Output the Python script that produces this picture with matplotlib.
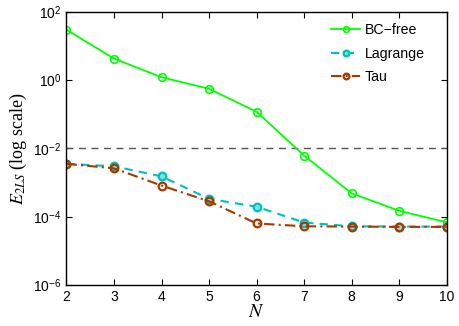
import math
import matplotlib
matplotlib.use("Agg")
import matplotlib.pyplot as plt
from matplotlib.ticker import FixedLocator, FuncFormatter, NullLocator

plt.rcParams['font.family'] = ['Liberation Sans', 'DejaVu Sans']
plt.rcParams['mathtext.fontset'] = 'stix'

N = [2, 3, 4, 5, 6, 7, 8, 9, 10]
bc_free = [29.5, 4.2, 1.2, 0.55, 0.117, 6.1e-3, 4.8e-4, 1.48e-4, 6.8e-5]
lagrange = [3.5e-3, 2.96e-3, 1.5e-3, 3.3e-4, 1.95e-4, 6.7e-5, 5.2e-5, 5.1e-5, 5.1e-5]
tau = [3.5e-3, 2.58e-3, 8.1e-4, 2.8e-4, 6.3e-5, 5.2e-5, 5.1e-5, 5.0e-5, 5.0e-5]
threshold = 1e-2
yticks = [1e-6, 1e-4, 1e-2, 1e0, 1e2]

fig = plt.figure(figsize=(4.6, 3.26), dpi=100)
ax = fig.add_axes([0.1445, 0.126, 0.8265, 0.8385])

ax.axhline(threshold, color='#555555', lw=1.0, ls=(0, (5, 4)))
ax.plot(N, bc_free, color='#00ff00', lw=1.3, ls='-', marker='o', ms=5.5,
        mfc='none', mec='#00ff00', mew=1.2, label='BC\u2212free')
ax.plot(N, lagrange, color='#00bfbf', lw=1.5, ls=(0, (4, 3)), marker='o', ms=5.5,
        mfc='#80dfdf', mec='#00bfbf', mew=1.6, label='Lagrange')
ax.plot(N, tau, color='#a33a00', lw=1.5, ls=(0, (5, 2, 1, 2)), marker='o', ms=5.5,
        mfc='none', mec='#a33a00', mew=1.6, label='Tau')

ax.set_yscale('log')
ax.set_xlim(2, 10)
ax.set_ylim(1e-6, 1e2)
ax.set_xticks(N)
ax.yaxis.set_major_locator(FixedLocator(yticks))
ax.yaxis.set_minor_locator(NullLocator())

def fmt(v, pos):
    e = int(round(math.log10(v)))
    s = str(e) if e >= 0 else '-' + str(-e)
    return r'10$^{\mathregular{%s}}$' % s

ax.yaxis.set_major_formatter(FuncFormatter(fmt))
ax.tick_params(which='both', direction='in', top=True, right=True, labelsize=10,
               length=4, width=0.8)
ax.tick_params(axis='x', pad=4)
for s in ax.spines.values():
    s.set_linewidth(1.0)

ax.set_xlabel('$N$', fontsize=14, labelpad=0)
ax.set_ylabel('$E_{2LS}$ (log scale)', fontsize=13, family='Liberation Serif', labelpad=3)

ax.legend(loc='upper right', bbox_to_anchor=(0.972, 1.0), frameon=False,
          fontsize=10.2, handlelength=2.1, markerscale=0.75,
          handletextpad=0.3, labelspacing=0.68, borderaxespad=0.4)

fig.savefig('out.png', dpi=100)
